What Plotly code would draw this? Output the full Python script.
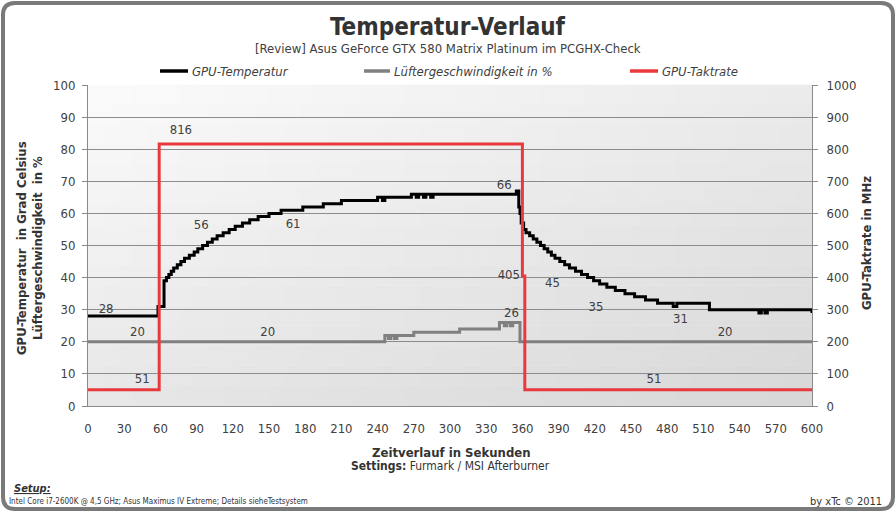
import plotly.graph_objects as go

# ---------------- data ----------------
temp_t = [0, 58, 63, 65, 67, 69, 71, 74, 77, 80, 84, 88, 91, 95, 99, 103, 107, 112, 117, 122,
          128, 134, 141, 150, 160, 178, 195, 210, 240, 244, 246, 268, 272, 274, 278, 280, 284, 286,
          355, 357, 358, 359, 361, 363, 366, 369, 372, 375, 378, 381, 384, 387, 391, 395, 399,
          404, 409, 414, 419, 424, 430, 437, 445, 453, 462, 472, 485, 488, 515, 556, 558, 561, 563, 600]
temp_v = [28, 31, 39, 40, 41, 42, 43, 44, 45, 46, 47, 48, 49, 50, 51, 52, 53, 54, 55, 56,
          57, 58, 59, 60, 61, 62, 63, 64, 65, 64, 65, 66, 65, 66, 65, 66, 65, 66,
          67, 62, 60, 57, 55, 54, 53, 52, 51, 50, 49, 48, 47, 46, 45, 44, 43,
          42, 41, 40, 39, 38, 37, 36, 35, 34, 33, 32, 31, 32, 30, 29, 30, 29, 30, 29]

fan_t = [0, 246, 249, 251, 254, 256, 270, 300, 302, 308, 341, 345, 347, 350, 352, 358, 600]
fan_v = [20, 22, 21, 22, 21, 22, 23, 23, 23, 24, 26, 25, 26, 25, 26, 20, 20]

clock_t = [0, 59, 360, 362, 600]
clock_v = [51, 816, 405, 51, 51]

temp_lbl_t = [15, 100, 170, 345, 385, 421, 491]
temp_lbl_v = [28, 56, 61, 66, 45, 35, 31]
temp_lbl_pos = ["top center", "middle left", "bottom center", "top center",
                "bottom center", "bottom center", "bottom center"]

fan_lbl_t = [41, 149, 351, 528]
fan_lbl_v = [20, 20, 26, 20]

clock_lbl_t = [45, 77, 358, 469]
clock_lbl_v = [51, 816, 405, 51]
clock_lbl_pos = ["top center", "top center", "middle left", "top center"]

x_ticks = list(range(0, 601, 30))
y_ticks = list(range(0, 101, 10))
y2_ticks = list(range(0, 1001, 100))

# ---------------- geometry helpers ----------------
W, H = 896, 512
L, R, T, B = 88, 84, 85, 106
PW, PH = W - L - R, H - T - B


def px(x):
    return (x - L) / PW


def py(y):
    return (H - B - y) / PH


FONT = "DejaVu Sans Condensed, Liberation Sans Narrow, sans-serif"
TXT = "#404040"
RED = "#e8393d"
GRAY = "#808080"

fig = go.Figure()

fig.add_trace(go.Scatter(x=temp_t, y=temp_v, mode="lines", line=dict(color="black", width=3, shape="hv"),
                         name="GPU-Temperatur", showlegend=False))
fig.add_trace(go.Scatter(x=fan_t, y=fan_v, mode="lines", line=dict(color=GRAY, width=3, shape="hv"),
                         name="Lüftergeschwindigkeit in %", showlegend=False))
fig.add_trace(go.Scatter(x=clock_t, y=clock_v, mode="lines", line=dict(color=RED, width=3, shape="hv"),
                         name="GPU-Taktrate", yaxis="y2", showlegend=False))

lblfont = dict(family=FONT, size=13, color=TXT)
# invisible markers only widen the gap between a label and its point
fig.add_trace(go.Scatter(x=temp_lbl_t, y=temp_lbl_v, mode="markers+text", text=[str(v) for v in temp_lbl_v],
                         textposition=temp_lbl_pos, textfont=lblfont, showlegend=False, hoverinfo="skip",
                         marker=dict(size=[0, 0, 12, 2, 24, 10, 10], opacity=0)))
fig.add_trace(go.Scatter(x=fan_lbl_t, y=fan_lbl_v, mode="markers+text", text=[str(v) for v in fan_lbl_v],
                         textposition="top center", textfont=lblfont, showlegend=False, hoverinfo="skip",
                         marker=dict(size=2, opacity=0)))
fig.add_trace(go.Scatter(x=clock_lbl_t, y=clock_lbl_v, mode="markers+text", text=[str(v) for v in clock_lbl_v],
                         textposition=clock_lbl_pos, textfont=lblfont, yaxis="y2", showlegend=False,
                         hoverinfo="skip", marker=dict(size=[4, 10, 0, 4], opacity=0)))

shapes = []
# gradient background of the plot area
NX, NY = 48, 16
for i in range(NX):
    for j in range(NY):
        u = (i + 0.5) / NX
        v = (j + 0.5) / NY
        c = int(round(251 - 16 * u - 20 * (1 - v)))
        shapes.append(dict(type="rect", xref="paper", yref="paper", x0=i / NX, x1=(i + 1) / NX + 0.001,
                           y0=j / NY, y1=(j + 1) / NY + 0.001, line=dict(width=0),
                           fillcolor=f"rgb({c},{c},{c})", layer="below"))

# rounded outer frame
m, r = 3, 12
x0, x1, y0, y1 = m, W - m, m, H - m
path = (f"M {px(x0 + r)},{py(y0)} L {px(x1 - r)},{py(y0)} Q {px(x1)},{py(y0)} {px(x1)},{py(y0 + r)} "
        f"L {px(x1)},{py(y1 - r)} Q {px(x1)},{py(y1)} {px(x1 - r)},{py(y1)} "
        f"L {px(x0 + r)},{py(y1)} Q {px(x0)},{py(y1)} {px(x0)},{py(y1 - r)} "
        f"L {px(x0)},{py(y0 + r)} Q {px(x0)},{py(y0)} {px(x0 + r)},{py(y0)} Z")
shapes.append(dict(type="path", xref="paper", yref="paper", path=path, line=dict(color="#7a7a7a", width=4)))

# legend samples
leg = [(160, 188, "black", "GPU-Temperatur"), (364, 390, GRAY, "Lüftergeschwindigkeit in %"),
       (630, 658, RED, "GPU-Taktrate")]
annotations = []
for a, b, col, name in leg:
    shapes.append(dict(type="line", xref="paper", yref="paper", x0=px(a), x1=px(b), y0=py(71), y1=py(71),
                       line=dict(color=col, width=3.5)))
    annotations.append(dict(x=px(b + 2), y=py(71), xref="paper", yref="paper", text=name, showarrow=False,
                            xanchor="left", yanchor="middle",
                            font=dict(family=FONT, size=13, color=TXT, style="italic")))


def ann(x, y, text, size=13, xanchor="center", angle=0, color=TXT):
    annotations.append(dict(x=px(x), y=py(y), xref="paper", yref="paper", text=text, showarrow=False,
                            xanchor=xanchor, yanchor="middle", textangle=angle,
                            font=dict(family=FONT, size=size, color=color)))


ann(448, 27, "<b>Temperatur-Verlauf</b>", size=24, color="#333333")
ann(448, 48, "[Review] Asus GeForce GTX 580 Matrix Platinum im PCGHX-Check", size=13)
ann(22, 248, "<b>GPU-Temperatur  in Grad Celsius</b>", size=13, angle=-90, color="#333333")
ann(38, 248, "<b>Lüftergeschwindigkeit  in %</b>", size=13, angle=-90, color="#333333")
ann(866, 243, "<b>GPU-Taktrate in MHz</b>", size=13, angle=-90, color="#333333")
ann(451, 452, "<b>Zeitverlauf in Sekunden</b>", size=13, color="#333333")
ann(450, 466, "<b>Settings:</b> Furmark / MSI Afterburner", size=12, color="#333333")
ann(12, 488, "<b><i><u>Setup:</u></i></b>", size=11, xanchor="left", color="#333333")
ann(7, 501, "Intel Core i7-2600K @ 4,5 GHz; Asus Maximus IV Extreme; Details sieheTestsystem", size=8,
    xanchor="left", color="#333333")
ann(884, 501, "by xTc © 2011", size=11, xanchor="right", color="#333333")

tickfont = dict(family=FONT, size=13, color=TXT)
fig.update_layout(
    width=W, height=H,
    margin=dict(l=L, r=R, t=T, b=B, pad=0),
    paper_bgcolor="white",
    plot_bgcolor="rgba(0,0,0,0)",
    showlegend=False,
    shapes=shapes,
    annotations=annotations,
    xaxis=dict(range=[0, 600], tickvals=x_ticks, showgrid=False, zeroline=False, showline=True,
               linecolor="#8a8a8a", linewidth=1, ticks="", tickfont=tickfont, ticklabelstandoff=10,
               fixedrange=True),
    yaxis=dict(range=[0, 100], tickvals=y_ticks, showgrid=True, gridcolor="#8c8c8c", gridwidth=1,
               zeroline=False, showline=True, linecolor="#8a8a8a", ticks="outside", ticklen=5,
               tickcolor="#8a8a8a", tickfont=tickfont, ticklabelstandoff=4),
    yaxis2=dict(range=[0, 1000], tickvals=y2_ticks, overlaying="y", side="right", showgrid=False,
                zeroline=False, showline=True, linecolor="#8a8a8a", ticks="outside", ticklen=5,
                tickcolor="#8a8a8a", tickfont=tickfont, ticklabelstandoff=6),
)

fig.write_html("out.html")
